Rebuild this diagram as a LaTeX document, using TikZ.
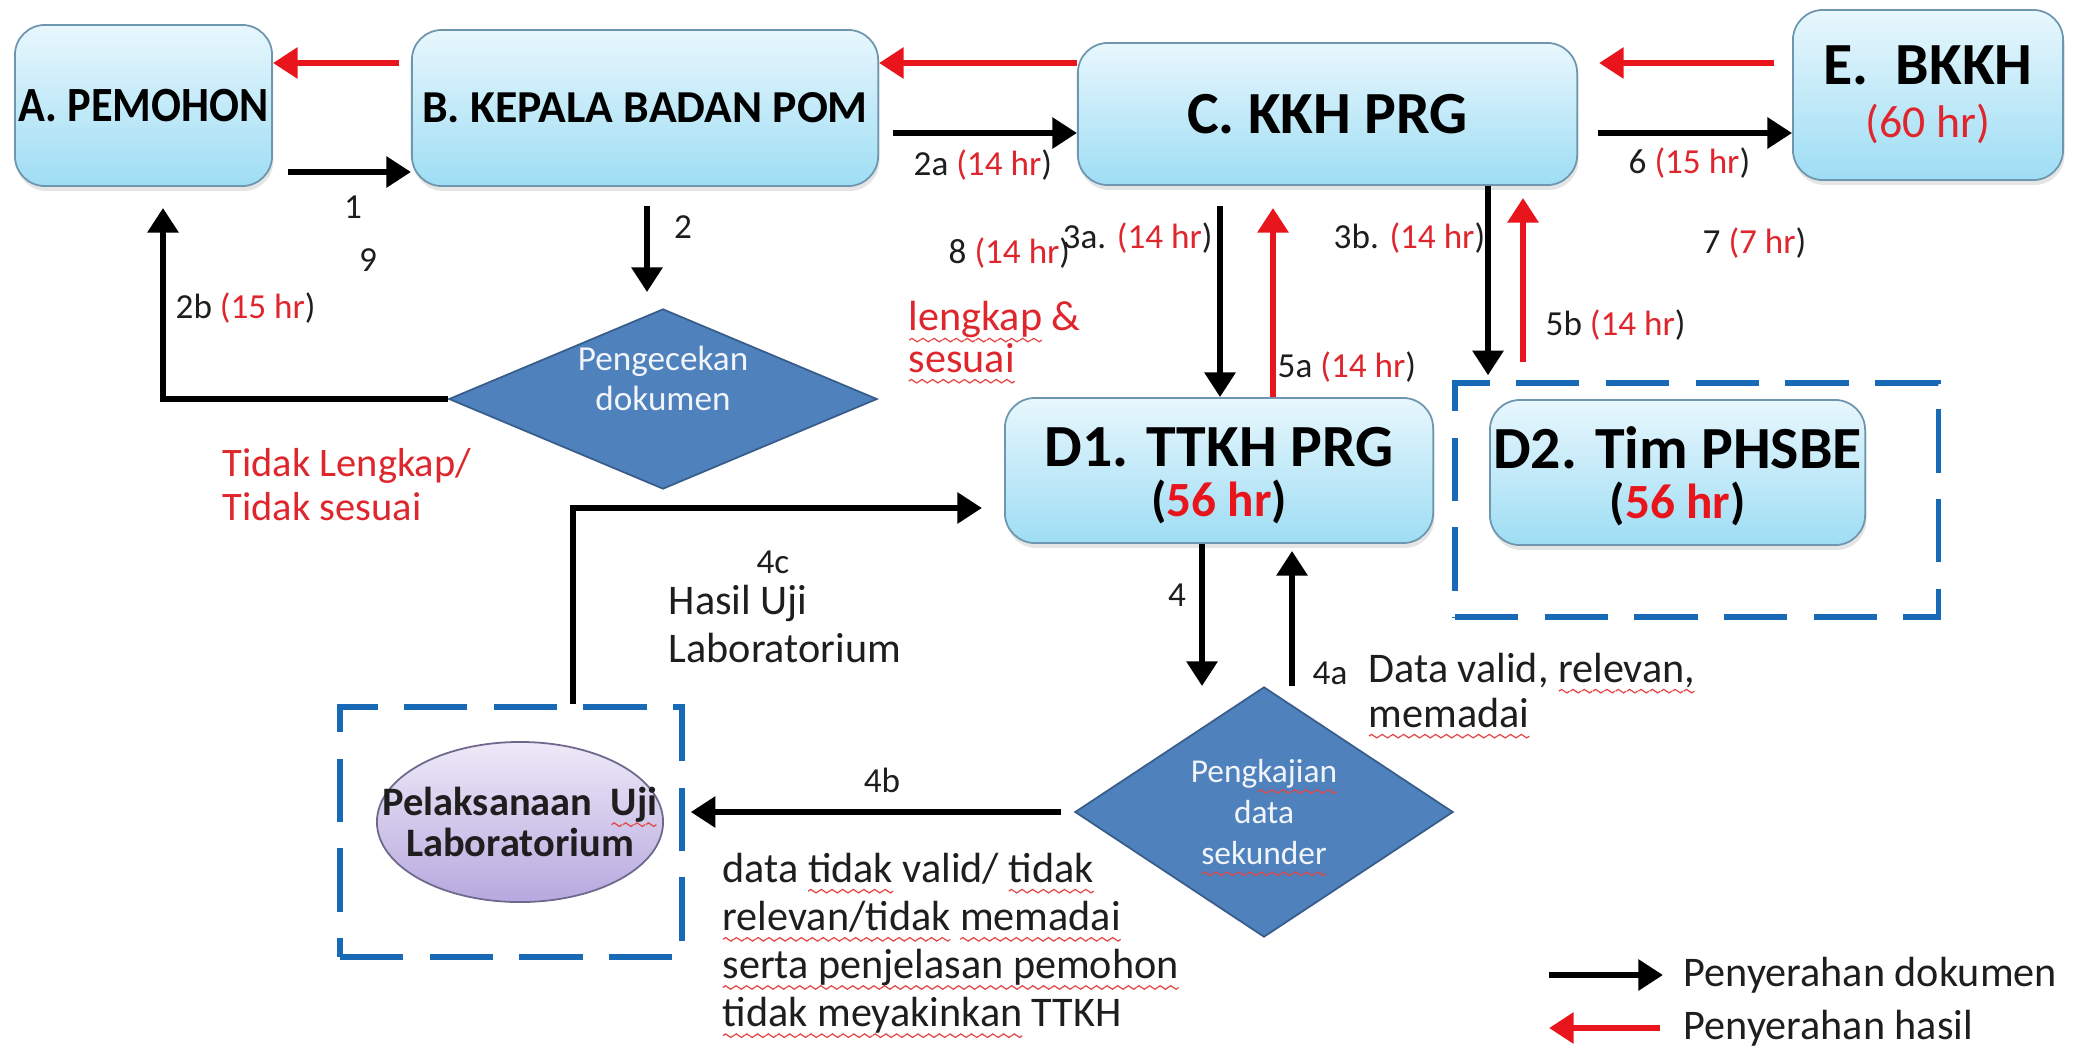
\documentclass[tikz,border=0pt]{standalone}
\usepackage{fontspec}
\setmainfont{Carlito}
\newfontfamily\narrowfont[FakeStretch=0.9]{Carlito}
\usetikzlibrary{arrows.meta,shapes.geometric,shadows}

\definecolor{boxtop}{RGB}{232,247,253}
\definecolor{boxbot}{RGB}{158,221,244}
\definecolor{boxedge}{RGB}{110,150,175}
\definecolor{dblue}{RGB}{79,129,189}
\definecolor{dedge}{RGB}{56,93,138}
\definecolor{frameblue}{RGB}{24,106,182}
\definecolor{lavtop}{RGB}{238,233,248}
\definecolor{lavbot}{RGB}{183,168,222}
\definecolor{lavedge}{RGB}{110,104,140}
\definecolor{ared}{RGB}{232,22,28}
\definecolor{tred}{RGB}{222,38,44}
\definecolor{ink}{RGB}{30,30,30}
\definecolor{squig}{RGB}{228,70,70}

% wavy spell-check underline and red duration
\newsavebox\wavebox
\newsavebox\spellbox
\newcommand\spell[1]{\sbox\spellbox{#1}\leavevmode\rlap{\raisebox{-3.2pt}[0pt][0pt]{\hbox to\wd\spellbox{\xleaders\copy\wavebox\hfill}}}\usebox\spellbox}
\newcommand\dur[1]{\textcolor{tred}{(#1 hr})}

\begin{document}
\global\setbox\wavebox\hbox{\begin{pgfpicture}
  \pgfpathrectangle{\pgfpoint{0pt}{-0.6pt}}{\pgfpoint{3pt}{1.2pt}}
  \pgfusepath{use as bounding box}
  \pgfsetlinewidth{0.35pt}\pgfsetstrokecolor{squig}
  \pgfpathmoveto{\pgfpoint{0pt}{0pt}}
  \pgfpathsine{\pgfpoint{0.75pt}{0.5pt}}
  \pgfpathcosine{\pgfpoint{0.75pt}{-0.5pt}}
  \pgfpathsine{\pgfpoint{0.75pt}{-0.5pt}}
  \pgfpathcosine{\pgfpoint{0.75pt}{0.5pt}}
  \pgfusepath{stroke}
\end{pgfpicture}}%
\begin{tikzpicture}[x=0.01cm, y=-0.01cm,
  box/.style={rectangle, rounded corners=0.3cm, top color=boxtop, bottom color=boxbot,
    draw=boxedge, line width=0.5pt, align=center, inner sep=0pt,
    drop shadow={opacity=0.2, shadow xshift=0.4pt, shadow yshift=-1.4pt}},
  check/.style={diamond, fill=dblue, draw=dedge, line width=0.5pt, inner sep=0pt},
  dtext/.style={align=center, text=white!92!dblue, inner sep=0pt},
  group/.style={rectangle, draw=frameblue, line width=1.5pt, dash pattern=on 18pt off 7.5pt, inner sep=0pt},
  doc/.style={draw=black, line width=1.9pt, -{Triangle[length=7pt,width=8.5pt]}},
  res/.style={draw=ared, line width=1.9pt, -{Triangle[length=7pt,width=8.5pt]}},
  lbl/.style={inner sep=0pt, text=ink, font=\fontsize{10}{12}\selectfont},
  note/.style={inner sep=0pt, text=ink, align=left, font=\fontsize{12}{13.7}\selectfont}]

  % Canvas
  \fill[white] (0,0) rectangle (2080,1051);
  \useasboundingbox (0,0) rectangle (2080,1051);

  % Units, top row
  \node[box, minimum width=2.57cm, minimum height=1.61cm, font=\narrowfont\bfseries\fontsize{14}{16}\selectfont] (A) at (143.5,105.5) {A. PEMOHON};
  \node[box, minimum width=4.66cm, minimum height=1.56cm, font=\bfseries\fontsize{13}{15}\selectfont] (B) at (645,108) {B. KEPALA BADAN POM};
  \node[box, minimum width=4.99cm, minimum height=1.42cm, font=\bfseries\fontsize{17}{20}\selectfont] (C) at (1327.5,114) {C. KKH PRG};
  \node[box, minimum width=2.70cm, minimum height=1.70cm, font=\bfseries\fontsize{17}{15}\selectfont] (E) at (1928,95) {E.~ BKKH\\{\mdseries\fontsize{13}{15}\selectfont\textcolor{tred}{(60 hr)}}};

  % Units, middle row
  \node[group, minimum width=4.83cm, minimum height=2.34cm] (grpD) at (1696.5,500) {};
  \node[box, minimum width=4.28cm, minimum height=1.45cm, font=\bfseries\fontsize{17}{16}\selectfont] (D1) at (1219,470.5) {\rule{0pt}{14.1pt}D1. TTKH PRG\\[-1.7pt]{\fontsize{14}{16}\selectfont(\textcolor{ared}{56 hr})}};
  \node[box, minimum width=3.75cm, minimum height=1.45cm, font=\bfseries\fontsize{17}{16}\selectfont] (D2) at (1677.5,472.5) {\rule{0pt}{14.1pt}D2. Tim PHSBE\\[-1.7pt]{\fontsize{14}{16}\selectfont(\textcolor{ared}{56 hr})}};

  % Checks
  \node[check, aspect=2.38, minimum width=4.28cm, minimum height=1.8cm] (cek) at (663,399) {};
  \node[dtext, font=\fontsize{10}{11.4}\selectfont] (cekT) at (663,378) {Pengecekan\\dokumen};
  \node[check, aspect=1.51, minimum width=3.78cm, minimum height=2.5cm] (kaji) at (1264,812) {};
  \node[dtext, font=\fontsize{9.5}{11.7}\selectfont] (kajiT) at (kaji.center) {Peng\spell{kajian}\\data\\\spell{sekunder}};

  % Laboratory
  \node[group, minimum width=3.42cm, minimum height=2.5cm] (grpLab) at (511,832) {};
  \node[ellipse, top color=lavtop, bottom color=lavbot, draw=lavedge, line width=0.5pt,
    minimum width=2.86cm, minimum height=1.6cm, inner sep=0pt] (lab) at (520,822) {};
  \node[font=\bfseries\fontsize{11.5}{11.7}\selectfont, align=center, inner sep=0pt, text=ink] (labT) at (lab.center) {Pelaksanaan~ \spell{Uji}\\Laboratorium};

  % Document hand-over (black)
  \draw[doc, shorten <=0.15cm] (A.east |- 0,172) -- (B.west |- 0,172);
  \draw[doc, shorten <=0.14cm] (B.east |- 0,133) -- (C.west |- 0,133);
  \draw[doc, shorten <=0.2cm] (C.east |- 0,133) -- (E.west |- 0,133);
  \draw[doc, shorten <=0.19cm, shorten >=0.16cm] (B.south -| 647,0) -- (cek.north -| 647,0);
  \draw[doc, shorten >=0.21cm] (cek.west) -| (A.south -| 163,0);
  \draw[doc, shorten <=0.2cm] (C.south -| 1220,0) -- (D1.north -| 1220,0);
  \draw[doc, shorten >=0.05cm] (C.south -| 1488,0) -- (grpD.north -| 1488,0);
  \draw[doc] (D1.south -| 1202,0) -- (kaji.north -| 1202,0);
  \draw[doc, shorten >=0.07cm] (kaji.north -| 1292,0) -- (D1.south -| 1292,0);
  \draw[doc, shorten <=0.13cm, shorten >=0.06cm] (kaji.west) -- (kaji.west -| grpLab.east);
  \draw[doc, shorten >=0.22cm] (grpLab.north -| 573,0) |- (D1.west |- 0,508);

  % Result hand-over (red)
  \draw[res, shorten <=0.12cm] (B.west |- 0,63) -- (A.east |- 0,63);
  \draw[res] (C.west |- 0,63) -- (B.east |- 0,63);
  \draw[res, shorten <=0.18cm, shorten >=0.21cm] (E.west |- 0,63) -- (C.east |- 0,63);
  \draw[res, shorten >=0.22cm] (D1.north -| 1273,0) -- (C.south -| 1273,0);
  \draw[res, shorten <=0.18cm, shorten >=0.12cm] (grpD.north -| 1523,0) -- (C.south -| 1523,0);

  % Step labels
  \node[lbl] (s1) at (353,207) {1};
  \node[lbl] (s9) at (368,260) {9};
  \node[lbl] (s2) at (683,227) {2};
  \node[lbl, anchor=west] (s2b) at (175,308) {2b \dur{15}};
  \node[lbl, anchor=west] (s2a) at (913,165) {2a \dur{14}};
  \node[lbl, anchor=west] (s8) at (948,253) {8 \dur{14}};
  \node[lbl, anchor=west] (s3a) at (1062,238) {3a. \dur{14}};
  \node[lbl, anchor=west] (s3b) at (1333,238) {3b. \dur{14}};
  \node[lbl, anchor=west] (s5a) at (1277,367) {5a \dur{14}};
  \node[lbl, anchor=west] (s5b) at (1545,325) {5b \dur{14}};
  \node[lbl, anchor=west] (s6) at (1628,163) {6 \dur{15}};
  \node[lbl, anchor=west] (s7) at (1702,243) {7 \dur{7}};
  \node[lbl] (s4) at (1177,595) {4};
  \node[lbl] (s4a) at (1330,673) {4a};
  \node[lbl] (s4b) at (882,780) {4b};
  \node[lbl] (s4c) at (773,562) {4c};

  % Decision notes
  \node[note, anchor=west, text=tred, font=\fontsize{11.5}{12.5}\selectfont] (nTidak) at (222,485) {Tidak Lengkap/\\Tidak sesuai};
  \node[note, anchor=west, text=tred, font=\fontsize{12}{11.7}\selectfont] (nLengkap) at (908,337) {\spell{lengkap} \&\\\spell{sesuai}};
  \node[note, anchor=west] (nHasil) at (668,624) {Hasil Uji\\Laboratorium};
  \node[note, anchor=west, font=\fontsize{12}{12.8}\selectfont] (nValid) at (1368,690) {Data valid, \spell{relevan,}\\\spell{memadai}};
  \node[note, anchor=west] (nTolak) at (722,943) {data \spell{tidak} valid/ \spell{tidak}\\\spell{relevan/tidak} \spell{memadai}\\\spell{serta penjelasan pemohon}\\\spell{tidak meyakinkan} TTKH};

  % Legend
  \node[note, anchor=west] (legDoc) at (1683,975) {Penyerahan dokumen};
  \node[note, anchor=west] (legRes) at (1683,1028) {Penyerahan hasil};
  \coordinate (legDocTail) at (1549,975);
  \coordinate (legResTip) at (1549,1028);
  \draw[doc, shorten >=0.2cm] (legDocTail) -- (legDoc.west);
  \draw[res, shorten <=0.23cm] (legRes.west) -- (legResTip);

\end{tikzpicture}
\end{document}
